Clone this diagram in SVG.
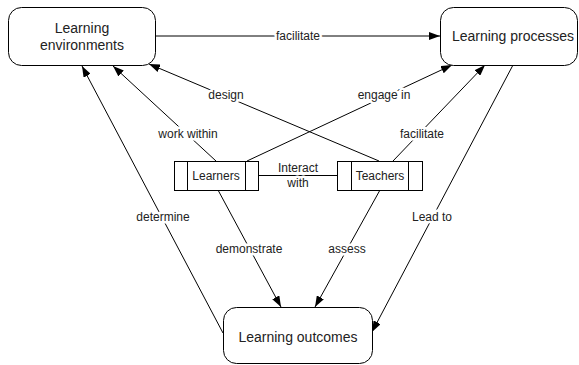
<svg xmlns="http://www.w3.org/2000/svg" width="579" height="365" viewBox="0 0 579 365">
  <style>
    .node { fill: #fff; stroke: #000; stroke-width: 1; }
    .div { stroke: #000; stroke-width: 1; }
    .title { font-family: "Liberation Sans", Arial, sans-serif; font-size: 14px; fill: #222; text-anchor: middle; }
    .name { font-family: "Liberation Sans", Arial, sans-serif; font-size: 12px; fill: #222; text-anchor: middle; }
    .edge { fill: none; stroke: #000; stroke-width: 1; }
    .arrow { marker-end: url(#head); }
    .lbl { font-family: "Liberation Sans", Arial, sans-serif; font-size: 12px; fill: #222; text-anchor: middle;
           stroke: #fff; stroke-width: 5; stroke-linejoin: round; paint-order: stroke; }
  </style>
  <defs>
    <marker id="head" markerUnits="userSpaceOnUse" markerWidth="11" markerHeight="8" refX="11" refY="4" orient="auto">
      <path d="M0,0 L11,4 L0,8 z" fill="#000"/>
    </marker>
  </defs>

  <rect width="579" height="365" fill="#fff"/>

  <!-- connectors -->
  <g id="connectors">
    <path class="edge arrow" d="M156,36 L440,36"/>
    <path class="edge arrow" d="M379,161 L149,64"/>
    <path class="edge arrow" d="M247,161 L452,65"/>
    <path class="edge arrow" d="M216,161 L113,66"/>
    <path class="edge arrow" d="M393,161 L485,65"/>
    <path class="edge arrow" d="M223,333 L82,66"/>
    <path class="edge arrow" d="M218,190 L281,307"/>
    <path class="edge arrow" d="M380,190 L315,307"/>
    <path class="edge arrow" d="M513,65 L372,332"/>
    <path class="edge" d="M258,175.5 L337,175.5"/>

    <text class="lbl" x="298" y="40">facilitate</text>
    <text class="lbl" x="226" y="99">design</text>
    <text class="lbl" x="384" y="99">engage in</text>
    <text class="lbl" x="188" y="138">work within</text>
    <text class="lbl" x="422" y="138">facilitate</text>
    <text class="lbl" x="298" y="172">Interact</text>
    <text class="lbl" x="298" y="187">with</text>
    <text class="lbl" x="163" y="221">determine</text>
    <text class="lbl" x="249" y="253">demonstrate</text>
    <text class="lbl" x="347" y="253">assess</text>
    <text class="lbl" x="432" y="221">Lead to</text>
  </g>

  <g id="learning-environments">
    <rect class="node" x="8.5" y="7.5" width="147" height="58" rx="13"/>
    <text class="title" x="82" y="33">Learning</text>
    <text class="title" x="82" y="50">environments</text>
  </g>

  <g id="learning-processes">
    <rect class="node" x="440.5" y="7.5" width="137" height="58" rx="13"/>
    <text class="title" x="513" y="41">Learning processes</text>
  </g>

  <g id="learning-outcomes">
    <rect class="node" x="223.5" y="307.5" width="149" height="56" rx="13"/>
    <text class="title" x="298" y="342">Learning outcomes</text>
  </g>

  <g id="learners">
    <rect class="node" x="174.5" y="161.5" width="84" height="29"/>
    <line class="div" x1="187.5" y1="161.5" x2="187.5" y2="190.5"/>
    <line class="div" x1="245.5" y1="161.5" x2="245.5" y2="190.5"/>
    <text class="name" x="216" y="180">Learners</text>
  </g>

  <g id="teachers">
    <rect class="node" x="337.5" y="161.5" width="85" height="29"/>
    <line class="div" x1="351.5" y1="161.5" x2="351.5" y2="190.5"/>
    <line class="div" x1="408.5" y1="161.5" x2="408.5" y2="190.5"/>
    <text class="name" x="380" y="180">Teachers</text>
  </g>
</svg>
